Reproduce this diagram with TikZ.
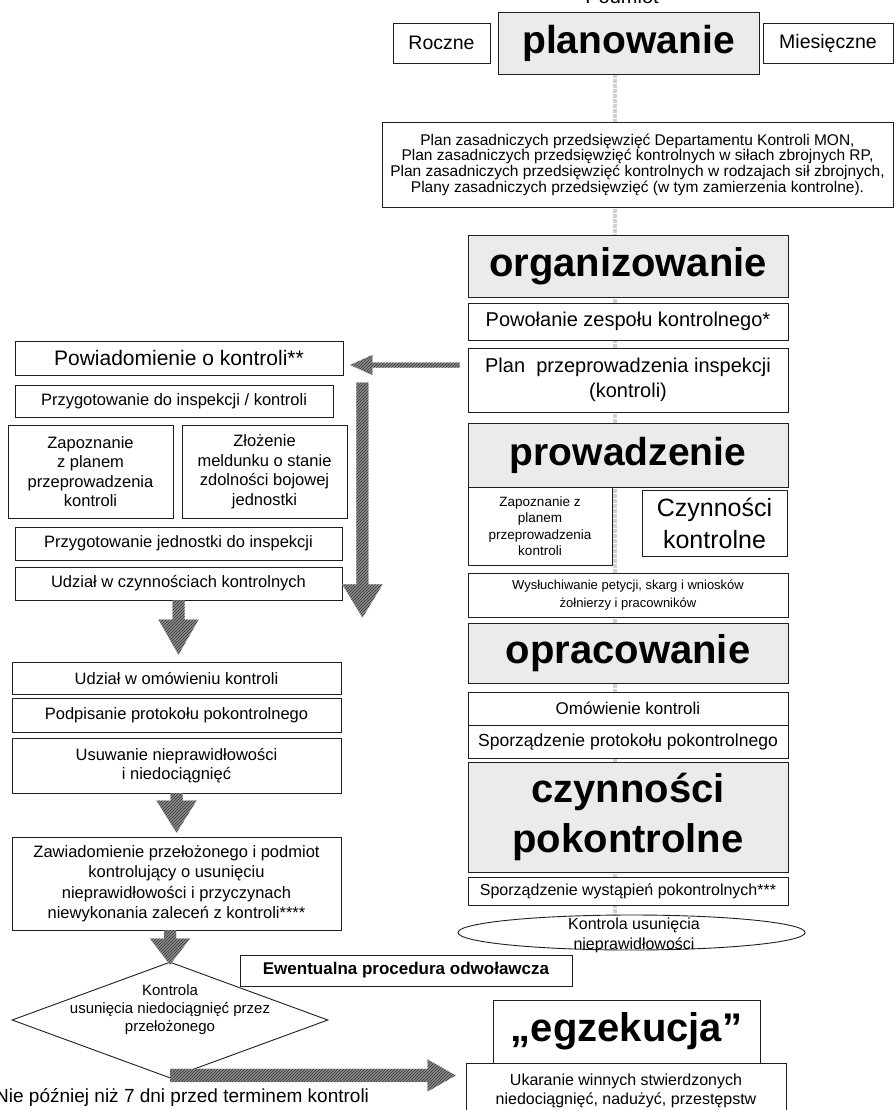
\documentclass[tikz,border=0pt]{standalone}
\usepackage{fontspec}
\setmainfont{Liberation Sans}
\usetikzlibrary{calc,shapes.geometric,patterns}

\newcommand\fs[2]{\fontsize{#1}{#2}\selectfont}

\tikzset{
  box/.style={draw=black!88, line width=0.9pt, fill=white, inner sep=0pt, align=center},
  phase/.style={box, fill=black!8},
  hatch/.style={fill=black!45, draw=black!35, line width=0.3pt,
    postaction={pattern=north east lines, pattern color=black!80}},
  band/.style={draw=black!18, line width=4pt, densely dotted},
}

% downward block arrow from #1 to #2 (tip): shaft half width #3, head half width #4, head length #5
\newcommand\blockdown[5]{%
  \path[hatch] let \p1=(#1), \p2=(#2) in
    ({\x1-#3},{\y1}) -- ({\x1-#3},{\y2+#5}) -- ({\x1-#4},{\y2+#5}) -- ({\x1},{\y2})
    -- ({\x1+#4},{\y2+#5}) -- ({\x1+#3},{\y2+#5}) -- ({\x1+#3},{\y1}) -- cycle;}
% horizontal block arrow from #1 to #2 (tip); #6 = 1 points right, -1 points left
\newcommand\blockhoriz[6]{%
  \path[hatch] let \p1=(#1), \p2=(#2) in
    ({\x1},{\y1+#3}) -- ({\x2-(#6)*(#5)},{\y1+#3}) -- ({\x2-(#6)*(#5)},{\y1+#4}) -- ({\x2},{\y1})
    -- ({\x2-(#6)*(#5)},{\y1-#4}) -- ({\x2-(#6)*(#5)},{\y1-#3}) -- ({\x1},{\y1-#3}) -- cycle;}

\begin{document}
\begin{tikzpicture}[x=1pt,y=-1pt]
\useasboundingbox (0,0) rectangle (895,1110);
\fill[white] (0,0) rectangle (895,1110);

% faint guide running down the right column
\coordinate (bandtop) at (615,74);
\coordinate (bandbot) at (615,915);
\draw[band] (bandtop) -- (bandbot);

% ---------- top row ----------
\node[font=\fs{20}{24}, anchor=base] (podmiot) at (622,4) {Podmiot};
\node[box, minimum width=97, minimum height=40, font=\fs{19.5}{22}] (roczne) at (441.5,43) {Roczne};
\node[phase, minimum width=261, minimum height=62, font=\bfseries\fs{39}{46}] (planowanie) at (628.5,43) {planowanie};
\node[box, minimum width=130, minimum height=40, font=\fs{19.5}{22}] (miesieczne) at (828,43) {Miesięczne};
\node[box, minimum width=511, minimum height=85, font=\fs{15.5}{15.7}] (plany) at (637.5,164.5)
  {Plan zasadniczych przedsięwzięć Departamentu Kontroli MON,\\
   Plan zasadniczych przedsięwzięć kontrolnych w siłach zbrojnych RP,\\
   Plan zasadniczych przedsięwzięć kontrolnych w rodzajach sił zbrojnych,\\
   Plany zasadniczych przedsięwzięć (w tym zamierzenia kontrolne).};

% ---------- right column ----------
\node[phase, minimum width=320, minimum height=62, font=\bfseries\fs{40}{46}] (organizowanie) at (628,266) {organizowanie};
\node[box, minimum width=320, minimum height=37, font=\fs{20}{24}] (powolanie) at (628,321.5) {Powołanie zespołu kontrolnego*};
\node[box, minimum width=320, minimum height=64, font=\fs{20}{25}] (planprz) at (628,380) {Plan\ \ przeprowadzenia inspekcji\\(kontroli)};
\node[phase, minimum width=320, minimum height=64, font=\bfseries\fs{39}{46}] (prowadzenie) at (628,455) {prowadzenie};
\node[box, minimum width=144, minimum height=78, font=\fs{13.5}{16.5}] (zapoznanieP) at (540,526)
  {Zapoznanie z\\planem\\przeprowadzenia\\kontroli};
\node[box, minimum width=145, minimum height=66, font=\fs{25}{32}] (czynnosci) at (714.5,523) {Czynności\\kontrolne};
\node[box, minimum width=320, minimum height=44, font=\fs{13}{18}] (wysluchiwanie) at (628,595)
  {Wysłuchiwanie petycji, skarg i wniosków\\żołnierzy i pracowników};
\node[phase, minimum width=320, minimum height=60, font=\bfseries\fs{40}{46}] (opracowanie) at (628,653) {opracowanie};
\node[box, minimum width=320, minimum height=33, font=\fs{17}{20}] (omowienie) at (628,708.5) {Omówienie kontroli};
\node[box, minimum width=320, minimum height=33, font=\fs{17.5}{20}] (protokol) at (628,741.5) {Sporządzenie protokołu pokontrolnego};
\node[phase, minimum width=320, minimum height=110, font=\bfseries\fs{40}{50}] (pokontrolne) at (628,817) {czynności\\pokontrolne};
\node[box, minimum width=320, minimum height=28, font=\fs{16}{19}] (wystapienia) at (628,891) {Sporządzenie wystąpień pokontrolnych***};
\node[ellipse, draw=black!88, line width=0.9pt, fill=white, minimum width=347, minimum height=35, inner sep=0pt] (elipsa) at (631.5,932.5) {};
\node[font=\fs{16}{20}, align=center, inner sep=0pt] (elipsatekst) at (634,935) {Kontrola usunięcia\\nieprawidłowości};

% ---------- bottom right ----------
\node[box, minimum width=332, minimum height=31, font=\bfseries\fs{17}{20}] (odwolanie) at (406,970.5) {Ewentualna procedura odwoławcza};
\node[box, minimum width=267, minimum height=63, font=\bfseries\fs{40}{46}] (egzekucja) at (626.5,1031.5) {„egzekucja”};
\node[box, minimum width=320, minimum height=56, font=\fs{16}{18.5}] (ukaranie) at (626,1091)
  {Ukaranie winnych stwierdzonych\\niedociągnięć, nadużyć, przestępstw};

% ---------- left column ----------
\node[box, minimum width=328, minimum height=34, font=\fs{21}{24}] (powiadomienie) at (179,358) {Powiadomienie o kontroli**};
\node[box, minimum width=318, minimum height=32, font=\fs{16.5}{19}] (przygotowanie) at (174,401) {Przygotowanie do inspekcji / kontroli};
\node[box, minimum width=165, minimum height=93, font=\fs{16.5}{19.5}] (zapoznanieL) at (90.5,471.5)
  {Zapoznanie\\z planem\\przeprowadzenia\\kontroli};
\node[box, minimum width=165, minimum height=93, font=\fs{16.5}{19.5}] (zlozenie) at (264.5,471.5)
  {Złożenie\\meldunku o stanie\\zdolności bojowej\\jednostki};
\node[box, minimum width=327, minimum height=33, font=\fs{16.5}{19}] (przygJ) at (178.5,543.5) {Przygotowanie jednostki do inspekcji};
\node[box, minimum width=327, minimum height=33, font=\fs{16.5}{19}] (udzialC) at (178.5,583.5) {Udział w czynnościach kontrolnych};
\node[box, minimum width=329, minimum height=32, font=\fs{16.5}{19}] (udzialO) at (176.5,678) {Udział w omówieniu kontroli};
\node[box, minimum width=329, minimum height=34, font=\fs{16.5}{19}] (podpisanie) at (176.5,715) {Podpisanie protokołu pokontrolnego};
\node[box, minimum width=329, minimum height=55, font=\fs{16.5}{19}] (usuwanie) at (176.5,765.5) {Usuwanie nieprawidłowości\\i niedociągnięć};
\node[box, minimum width=329, minimum height=93, font=\fs{16.5}{20.5}] (zawiadomienie) at (176.5,883.5)
  {Zawiadomienie przełożonego i podmiot\\kontrolujący o usunięciu\\nieprawidłowości i przyczynach\\niewykonania zaleceń z kontroli****};
\node[diamond, draw=black!88, line width=0.9pt, fill=white, minimum width=316, minimum height=116, inner sep=0pt] (romb) at (170,1020) {};
\node[font=\fs{15}{18}, align=center, inner sep=0pt] (rombtekst) at (170,1010)
  {Kontrola\\usunięcia niedociągnięć przez\\przełożonego};
\node[font=\fs{19}{22}, anchor=west, inner sep=0pt] (termin) at (-5,1097) {Nie później niż 7 dni przed terminem kontroli};

% ---------- block arrows ----------
\coordinate (lewoStart) at ($(planprz.west)+(-8,-15)$);
\coordinate (lewoKoniec) at ($(powiadomienie.east)+(7,7)$);
\blockhoriz{lewoStart}{lewoKoniec}{2.5pt}{10pt}{22pt}{-1}

\coordinate (pionStart) at ($(przygotowanie.north east)+(29,-2)$);
\coordinate (pionKoniec) at ($(udzialC.south east)+(20,17)$);
\blockdown{pionStart}{pionKoniec}{6pt}{20pt}{33pt}

\blockdown{udzialC.south}{$(udzialO.north)+(0,-7)$}{6pt}{20pt}{35pt}
\blockdown{usuwanie.south}{$(zawiadomienie.north)+(0,-4)$}{6pt}{20pt}{32pt}
\blockdown{romb.north |- zawiadomienie.south}{$(romb.north)+(0,3)$}{6pt}{20pt}{26pt}

\coordinate (egzStrzalka) at ($(romb.south -| ukaranie.west)+(-10,-3)$);
\blockhoriz{$(romb.south)+(0,-3)$}{egzStrzalka}{6.5pt}{16pt}{28pt}{1}
\end{tikzpicture}
\end{document}
